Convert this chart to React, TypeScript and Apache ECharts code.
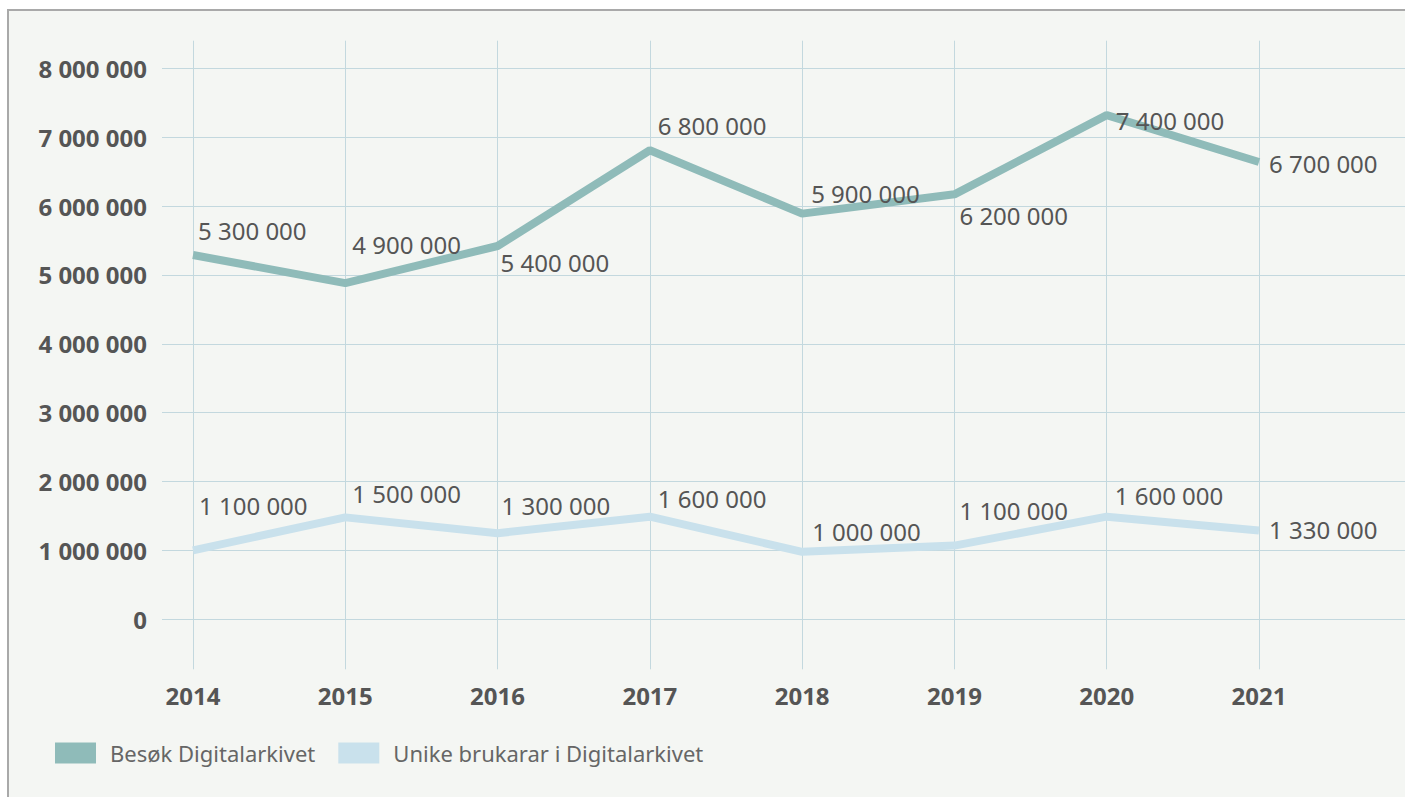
import React, { useEffect, useRef } from "react";
import * as echarts from "echarts";

const years = ["2014", "2015", "2016", "2017", "2018", "2019", "2020", "2021"];
const besokValues = [5290000, 4880000, 5420000, 6810000, 5890000, 6170000, 7320000, 6640000];
const besokLabels = ["5 300 000", "4 900 000", "5 400 000", "6 800 000", "5 900 000", "6 200 000", "7 400 000", "6 700 000"];
const unikeValues = [1000000, 1480000, 1250000, 1490000, 980000, 1070000, 1490000, 1290000];
const unikeLabels = ["1 100 000", "1 500 000", "1 300 000", "1 600 000", "1 000 000", "1 100 000", "1 600 000", "1 330 000"];
const seriesNames = ["Besøk Digitalarkivet", "Unike brukarar i Digitalarkivet"];
const yTicks = [0, 1000000, 2000000, 3000000, 4000000, 5000000, 6000000, 7000000, 8000000];

// label placement (style only)
const besokLabelOffsets = [[5, -24], [7, -39], [3, 17], [8, -25], [9, -20], [5, 21], [9, 5], [10, 2]];
const unikeLabelOffsets = [[6, -45], [7, -24], [4, -28], [8, -18], [10, -20], [5, -35], [8, -21], [10, -1]];

const FONT = "'Noto Sans', sans-serif";
const GRID_COLOR = "#c3d8de";
const TEXT_COLOR = "#555555";

const fmt = (v: number) => String(v).replace(/\B(?=(\d{3})+(?!\d))/g, " ");

export default function App() {
  const ref = useRef<HTMLDivElement>(null);
  useEffect(() => {
    if (!ref.current) return;
    const chart = echarts.init(ref.current, null, { renderer: "svg" });
    const stepPx = (1259 - 193) / 7;
    const xMin = 2014 - (193 - 162) / stepPx;
    const xMax = 2021 + (1405 - 1259) / stepPx;
    const mk = (vals: number[]) => vals.map((v, i) => [Number(years[i]), v]);
    const lineSeries = (idx: number, color: string, vals: number[], labels: string[], offs: number[][], z: number) => ({
      name: seriesNames[idx],
      type: "line",
      xAxisIndex: 0,
      yAxisIndex: 0,
      color,
      symbol: "circle",
      symbolSize: 0,
      showSymbol: true,
      itemStyle: { color },
      lineStyle: { width: 8, color, cap: "butt" },
      data: mk(vals),
      label: {
        show: true,
        position: "right",
        distance: 0,
        fontFamily: FONT,
        fontSize: 24,
        color: TEXT_COLOR,
        formatter: (p: any) => labels[p.dataIndex],
      },
      labelLayout: (p: any) => ({
        dx: offs[p.dataIndex][0],
        dy: offs[p.dataIndex][1],
        hideOverlap: false,
      }),
      z,
    });
    chart.setOption({
      animation: false,
      backgroundColor: "#ffffff",
      textStyle: { fontFamily: FONT },
      graphic: [
        {
          type: "rect",
          z: -10,
          silent: true,
          shape: { x: 7, y: 9, width: 1420, height: 820 },
          style: { fill: "#f4f6f3", stroke: "none" },
        },
        {
          type: "polyline",
          z: -9,
          silent: true,
          shape: { points: [[8, 800], [8, 10], [1420, 10]] },
          style: { stroke: "#a9a9a9", lineWidth: 2, fill: "none" },
        },
      ],
      grid: [
        { left: 162, right: 0, top: 68.3, bottom: 797 - 619.3 },
        { left: 193, right: 146, top: 40.7, bottom: 797 - 669.3 },
      ],
      xAxis: [
        { type: "value", gridIndex: 0, min: xMin, max: xMax, show: false, splitLine: { show: false } },
        {
          type: "category",
          gridIndex: 1,
          data: years,
          boundaryGap: false,
          axisLine: { show: false },
          axisTick: { show: false },
          axisLabel: { interval: 0, margin: 14, fontFamily: FONT, fontSize: 24, fontWeight: "bold", color: TEXT_COLOR },
          splitLine: { show: true, interval: 0, lineStyle: { color: GRID_COLOR, width: 1 } },
        },
      ],
      yAxis: [
        {
          type: "value",
          gridIndex: 0,
          min: yTicks[0],
          max: yTicks[yTicks.length - 1],
          interval: yTicks[1] - yTicks[0],
          axisLine: { show: false },
          axisTick: { show: false },
          axisLabel: { margin: 15, fontFamily: FONT, fontSize: 24, fontWeight: "bold", color: TEXT_COLOR, formatter: (v: number) => fmt(v) },
          splitLine: { show: true, lineStyle: { color: GRID_COLOR, width: 1 } },
        },
        { type: "value", gridIndex: 1, min: 0, max: 1, show: false, splitLine: { show: false } },
      ],
      legend: {
        left: 55,
        top: 742,
        padding: 0,
        itemWidth: 41,
        itemHeight: 21,
        itemGap: 23,
        icon: "rect",
        data: seriesNames,
        textStyle: { fontFamily: FONT, fontSize: 22, color: "#666666", padding: [0, 0, 0, 9] },
      },
      series: [
        lineSeries(0, "#8fbbb9", besokValues, besokLabels, besokLabelOffsets, 3),
        lineSeries(1, "#c9e1ec", unikeValues, unikeLabels, unikeLabelOffsets, 2),
      ],
    });
    return () => chart.dispose();
  }, []);
  return (
    <div style={{ position: "fixed", left: 0, top: 0, width: 1405, height: 797, overflow: "hidden" }}>
      <div ref={ref} style={{ width: 1405, height: 797 }} />
    </div>
  );
}
